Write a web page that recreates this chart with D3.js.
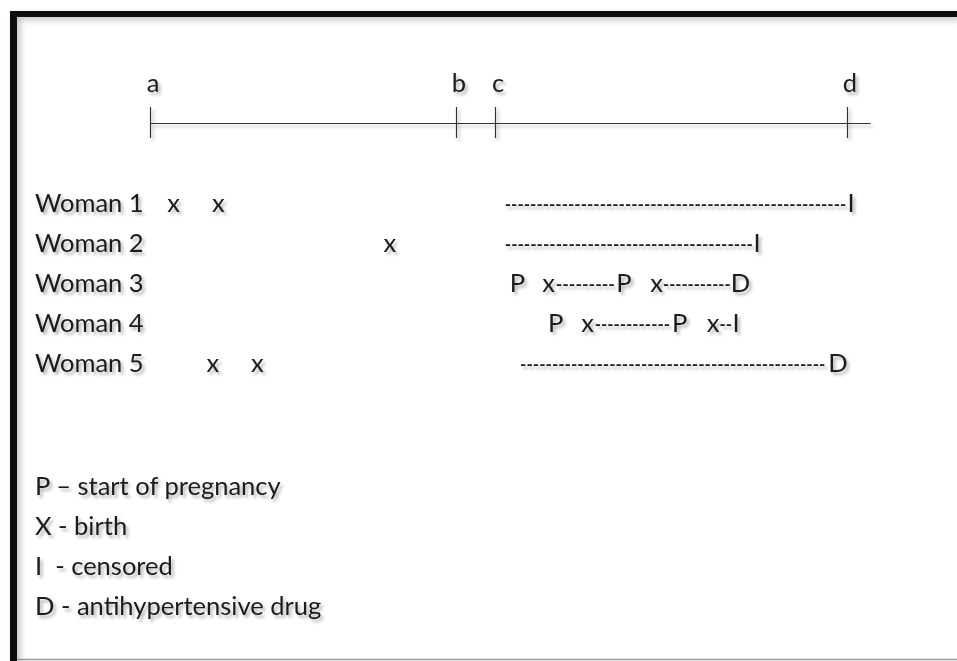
<!DOCTYPE html>
<html>
<head>
<meta charset="utf-8">
<script src="https://cdn.jsdelivr.net/npm/d3@7"></script>
<style>
body { margin: 0; background: #fff; }
svg { display: block; }
text { font-family: Lato, "Open Sans", sans-serif; fill: #1b1b1b; }
</style>
</head>
<body>
<svg id="graph"></svg>
<script>
// time points on the top line (a, b, c, d), 0..100 scale
var tickNames = ["a", "b", "c", "d"]
var tickValues = [0, 43.9, 49.5, 100]
var axisEnd = 103.4

var women = ["Woman 1", "Woman 2", "Woman 3", "Woman 4", "Woman 5"]

// letters placed on each row (P, x, I, D) at time t
var marks1 = [{t: 3.4, s: "x"}, {t: 9.8, s: "x"}, {t: 100.6, s: "I"}]
var marks2 = [{t: 34.4, s: "x"}, {t: 87.1, s: "I"}]
var marks3 = [{t: 52.7, s: "P"}, {t: 57.2, s: "x"}, {t: 68.0, s: "P"}, {t: 72.7, s: "x"}, {t: 84.7, s: "D"}]
var marks4 = [{t: 58.2, s: "P"}, {t: 62.8, s: "x"}, {t: 76.0, s: "P"}, {t: 80.8, s: "x"}, {t: 84.1, s: "I"}]
var marks5 = [{t: 9.0, s: "x"}, {t: 15.4, s: "x"}, {t: 98.7, s: "D"}]
var marks = [marks1, marks2, marks3, marks4, marks5]

// dashed runs on each row [from, to]
var dashes1 = [[50.9, 99.9]]
var dashes2 = [[50.9, 86.5]]
var dashes3 = [[58.2, 66.7], [73.6, 83.3]]
var dashes4 = [[63.8, 74.6], [81.7, 83.5]]
var dashes5 = [[53.1, 96.9]]
var dashes = [dashes1, dashes2, dashes3, dashes4, dashes5]

var legend = ["P \u2013 start of pregnancy", "X - birth", "I  - censored", "D - antihypertensive drug"]

var screen = {width: 957, height: 661}
var fontSize = 25.5

var svg = d3.select("#graph")
    .attr("width", screen.width)
    .attr("height", screen.height)

var defs = svg.append("defs")
defs.append("filter")
    .attr("id", "shadow")
    .attr("x", "-20%").attr("y", "-40%")
    .attr("width", "150%").attr("height", "200%")
    .append("feDropShadow")
    .attr("dx", 2.5).attr("dy", 3)
    .attr("stdDeviation", 1.6)
    .attr("flood-color", "#000")
    .attr("flood-opacity", 0.3)
defs.append("filter")
    .attr("id", "boxshadow")
    .append("feDropShadow")
    .attr("dx", 3).attr("dy", 3)
    .attr("stdDeviation", 3)
    .attr("flood-color", "#000")
    .attr("flood-opacity", 0.25)

// frame
var frame = svg.append("g").attr("filter", "url(#boxshadow)")
frame.append("rect")
    .attr("x", 10).attr("y", 11)
    .attr("width", screen.width - 10).attr("height", 6)
    .attr("fill", "#111")
frame.append("rect")
    .attr("x", 10).attr("y", 11)
    .attr("width", 7).attr("height", screen.height - 11)
    .attr("fill", "#111")
svg.append("line")
    .attr("x1", 17).attr("x2", screen.width)
    .attr("y1", 659.5).attr("y2", 659.5)
    .attr("stroke", "#999")
    .attr("stroke-width", 1.5)

var xScale = d3.scaleLinear()
    .domain([0, 100])
    .range([150, 847])

var yScale = d3.scaleBand()
    .domain(women)
    .range([172, 372])

var rowBase = function(w) { return yScale(w) + yScale.bandwidth() }

// top time line
var axis = svg.append("g").attr("filter", "url(#shadow)")
axis.append("line")
    .attr("x1", xScale(0)).attr("x2", xScale(axisEnd))
    .attr("y1", 123.5).attr("y2", 123.5)
    .attr("stroke", "#333")
    .attr("stroke-width", 1.2)
axis.selectAll(".tick")
    .data(tickValues)
    .enter()
    .append("line")
    .attr("x1", function(d) { return Math.round(xScale(d)) + 0.5 })
    .attr("x2", function(d) { return Math.round(xScale(d)) + 0.5 })
    .attr("y1", 107).attr("y2", 138)
    .attr("stroke", "#333")
    .attr("stroke-width", 1.2)
axis.selectAll(".tlabel")
    .data(tickValues)
    .enter()
    .append("text")
    .attr("x", function(d) { return xScale(d) + 3 })
    .attr("y", 92)
    .attr("text-anchor", "middle")
    .attr("font-size", fontSize)
    .text(function(d, i) { return tickNames[i] })

// rows
var rows = svg.append("g").attr("filter", "url(#shadow)")
rows.selectAll(".woman")
    .data(women)
    .enter()
    .append("text")
    .attr("x", 35)
    .attr("y", rowBase)
    .attr("font-size", fontSize)
    .text(function(d) { return d })

women.forEach(function(w, i) {
    rows.selectAll(".mark" + i)
        .data(marks[i])
        .enter()
        .append("text")
        .attr("x", function(d) { return xScale(d.t) })
        .attr("y", rowBase(w))
        .attr("text-anchor", "middle")
        .attr("font-size", fontSize)
        .text(function(d) { return d.s })

    // runs of hyphens, smaller bold type so the natural width fits the run
    rows.selectAll(".dash" + i)
        .data(dashes[i])
        .enter()
        .append("text")
        .attr("x", function(d) { return xScale(d[0]) })
        .attr("y", rowBase(w) - 2)
        .attr("font-size", 17)
        .attr("font-weight", "bold")
        .attr("textLength", function(d) { return xScale(d[1]) - xScale(d[0]) })
        .attr("lengthAdjust", "spacingAndGlyphs")
        .text(function(d) {
            var n = Math.max(1, Math.round((xScale(d[1]) - xScale(d[0])) / 6.3))
            return d3.range(n).map(function() { return "-" }).join("")
        })
})

// legend
svg.append("g").attr("filter", "url(#shadow)")
    .selectAll("text")
    .data(legend)
    .enter()
    .append("text")
    .attr("x", 35)
    .attr("y", function(d, i) { return 495 + i * 40 })
    .attr("font-size", fontSize)
    .attr("xml:space", "preserve")
    .style("white-space", "pre")
    .text(function(d) { return d })
</script>
</body>
</html>
